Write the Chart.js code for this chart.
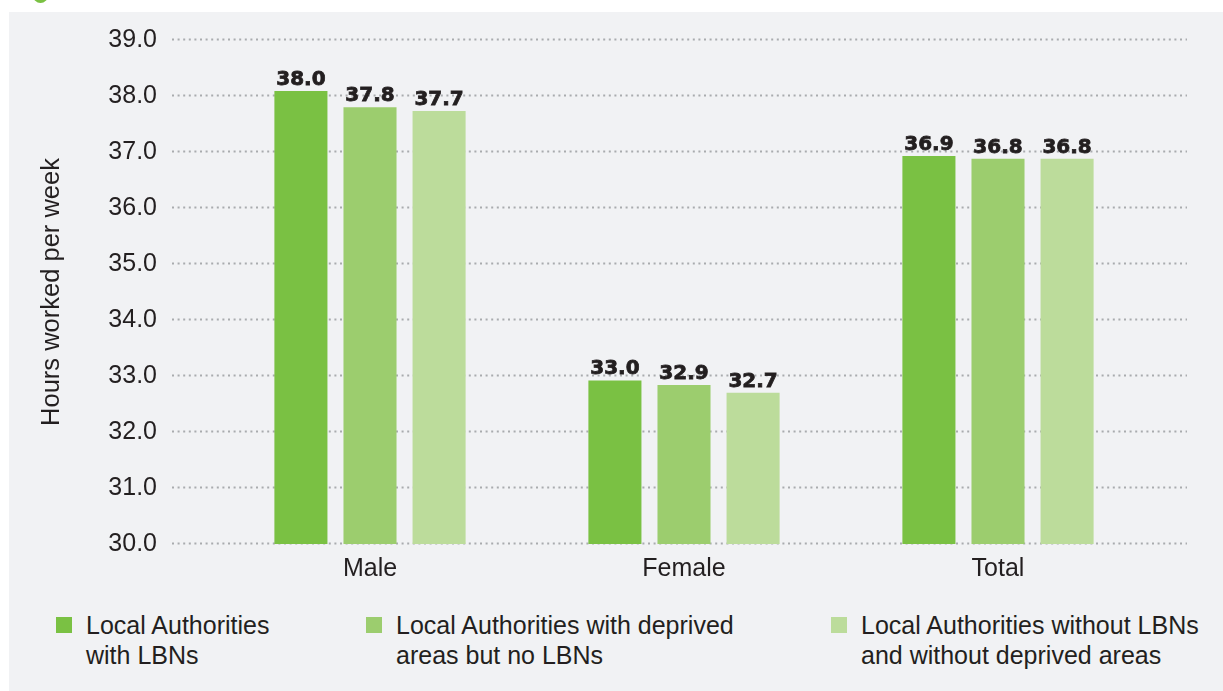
<!DOCTYPE html>
<html>
<head>
<meta charset="utf-8">
<script src="https://cdn.jsdelivr.net/npm/chart.js@4"></script>
<style>
    body { margin: 0; background: #ffffff; width: 1223px; height: 691px; overflow: hidden; position: relative; font-family: 'Liberation Sans', Arial, sans-serif; }
    #panel { position: absolute; left: 9px; top: 12px; right: 0; bottom: 0; background: #f1f2f4; }
    #dot { position: absolute; left: 33px; top: -12px; width: 15px; height: 15px; border-radius: 50%; background: #7ac143; }
    #myBarChart { position: absolute; left: 0; top: 0; }
    .legend-item { position: absolute; top: 610px; font-size: 25px; line-height: 30px; color: #231f20; }
    .legend-item .box { position: absolute; left: -30px; top: 7px; width: 16px; height: 16px; }
</style>
</head>
<body>
<div id="panel"></div>
<div id="dot"></div>
<canvas id="myBarChart" width="1223" height="600"></canvas>
<div class="legend-item" style="left: 86px;"><span class="box" style="background: #7ac143;"></span>Local Authorities<br>with LBNs</div>
<div class="legend-item" style="left: 396px;"><span class="box" style="background: #9ccd6e;"></span>Local Authorities with deprived<br>areas but no LBNs</div>
<div class="legend-item" style="left: 861px;"><span class="box" style="background: #bcdc9b;"></span>Local Authorities without LBNs<br>and without deprived areas</div>
<script>
// data (bar heights) and the printed value labels
const categories = ['Male', 'Female', 'Total'];
const seriesNames = [
    'Local Authorities with LBNs',
    'Local Authorities with deprived areas but no LBNs',
    'Local Authorities without LBNs and without deprived areas'
];
const withLBNs = [38.09, 32.92, 36.93];
const deprivedNoLBNs = [37.8, 32.84, 36.88];
const noLBNsNoDeprived = [37.73, 32.7, 36.88];
const withLBNsLabels = ['38.0', '33.0', '36.9'];
const deprivedNoLBNsLabels = ['37.8', '32.9', '36.8'];
const noLBNsNoDeprivedLabels = ['37.7', '32.7', '36.8'];
const yTicks = [30, 31, 32, 33, 34, 35, 36, 37, 38, 39];

const colors = ['#7ac143', '#9ccd6e', '#bcdc9b'];
const valueLabels = [withLBNsLabels, deprivedNoLBNsLabels, noLBNsNoDeprivedLabels];
const textColor = '#231f20';

// dotted gridlines that run a bit past the bar area on both sides
const dottedGrid = {
    id: 'dottedGrid',
    beforeDatasetsDraw(chart) {
        const ctx = chart.ctx;
        const area = chart.chartArea;
        const yScale = chart.scales.y;
        ctx.save();
        ctx.strokeStyle = '#a9abae';
        ctx.lineWidth = 2;
        ctx.setLineDash([2, 3.6]);
        yTicks.forEach(v => {
            const y = Math.round(yScale.getPixelForValue(v)) - 0.5;
            ctx.beginPath();
            ctx.moveTo(area.left - 41, y);
            ctx.lineTo(area.right + 32, y);
            ctx.stroke();
        });
        ctx.restore();
    }
};

// heavy value labels on top of each bar
const barValues = {
    id: 'barValues',
    afterDatasetsDraw(chart) {
        const ctx = chart.ctx;
        ctx.save();
        ctx.font = 'bold 20px "DejaVu Sans"';
        ctx.fillStyle = textColor;
        ctx.strokeStyle = textColor;
        ctx.lineWidth = 0.8;
        ctx.textAlign = 'center';
        ctx.textBaseline = 'alphabetic';
        chart.data.datasets.forEach((ds, d) => {
            chart.getDatasetMeta(d).data.forEach((bar, i) => {
                ctx.fillText(valueLabels[d][i], bar.x, bar.y - 6);
                ctx.strokeText(valueLabels[d][i], bar.x, bar.y - 6);
            });
        });
        ctx.restore();
    }
};

const barChartData = {
    labels: categories,
    datasets: [withLBNs, deprivedNoLBNs, noLBNsNoDeprived].map((values, i) => ({
        label: seriesNames[i],
        data: values,
        backgroundColor: colors[i],
        borderWidth: 0,
        categoryPercentage: 0.66,
        barPercentage: 0.768
    }))
};

const barChartConfig = {
    type: 'bar',
    data: barChartData,
    options: {
        responsive: false,
        animation: false,
        devicePixelRatio: 1,
        layout: { padding: { left: 30, right: 68, top: 40, bottom: 0 } },
        plugins: {
            legend: { display: false },
            tooltip: { enabled: false }
        },
        scales: {
            x: {
                grid: { display: false },
                border: { display: false },
                ticks: {
                    color: textColor,
                    font: { family: '"Liberation Sans", Arial', size: 25 },
                    padding: 2
                },
                afterFit(scale) { scale.height = 56; }
            },
            y: {
                min: 30,
                max: 39,
                // invisible tick marks push the labels away from the bars
                grid: { display: true, drawOnChartArea: false, drawTicks: true, tickLength: 50, color: 'rgba(0,0,0,0)' },
                border: { display: false },
                afterBuildTicks(scale) { scale.ticks = yTicks.map(v => ({ value: v })); },
                ticks: {
                    color: textColor,
                    font: { family: '"Liberation Sans", Arial', size: 25 },
                    padding: 6,
                    callback: v => v.toFixed(1)
                },
                title: {
                    display: true,
                    text: 'Hours worked per week',
                    color: textColor,
                    font: { family: '"Liberation Sans", Arial', size: 25.5 },
                    padding: { top: 7, bottom: 0 }
                },
                afterFit(scale) { scale.width = 183; }
            }
        }
    },
    plugins: [dottedGrid, barValues]
};

new Chart(
    document.getElementById('myBarChart'),
    barChartConfig
);
</script>
</body>
</html>
